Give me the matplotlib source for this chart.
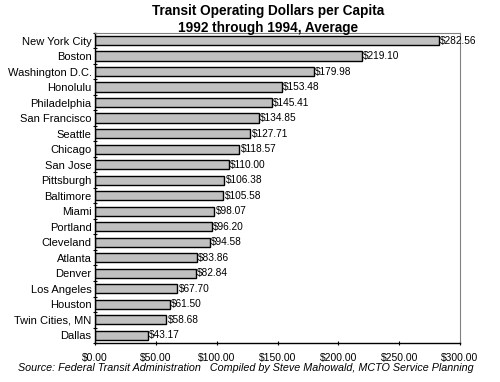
import matplotlib.pyplot as plt
import numpy as np

cities = ["New York City", "Boston", "Washington D.C.", "Honolulu", "Philadelphia",
          "San Francisco", "Seattle", "Chicago", "San Jose", "Pittsburgh", "Baltimore",
          "Miami", "Portland", "Cleveland", "Atlanta", "Denver", "Los Angeles",
          "Houston", "Twin Cities, MN", "Dallas"]
dollars = [282.56, 219.10, 179.98, 153.48, 145.41, 134.85, 127.71, 118.57, 110.00,
           106.38, 105.58, 98.07, 96.20, 94.58, 83.86, 82.84, 67.70, 61.50, 58.68, 43.17]
xticks = [0, 50, 100, 150, 200, 250, 300]

plt.rcParams['font.family'] = ['Liberation Sans', 'DejaVu Sans']

fig = plt.figure(figsize=(5.0, 3.82), dpi=100)
ax = fig.add_axes([0.19, 0.102, 0.73, 0.812])

y = np.arange(len(cities))
ax.barh(y, dollars, height=0.6, color='#c0c0c0', edgecolor='black', linewidth=1)
for yi, v in zip(y, dollars):
    ax.text(v + 1, yi, "$%.2f" % v, va='center', ha='left', fontsize=7.3)

ax.set_ylim(len(cities) - 0.5, -0.5)
ax.set_yticks(y)
ax.set_yticklabels(cities, fontsize=8)
ax.set_yticks(np.arange(-0.5, len(cities), 1), minor=True)
ax.tick_params(axis='y', which='major', length=0, pad=2.5)
ax.tick_params(axis='y', which='minor', length=3, direction='inout', width=0.8)

ax.set_xlim(0, 300)
ax.set_xticks(xticks)
ax.set_xticklabels(["$%.2f" % t for t in xticks], fontsize=7.5)
ax.tick_params(axis='x', length=3, direction='inout', width=0.8, pad=6)

ax.spines['top'].set_color('#808080')
ax.spines['right'].set_color('#808080')
ax.spines['left'].set_linewidth(1)
ax.spines['bottom'].set_linewidth(1)

fig.text(0.536, 0.99, "Transit Operating Dollars per Capita\n1992 through 1994, Average",
         ha='center', va='top', fontsize=9.8, fontweight='bold', linespacing=1.3)
fig.text(0.036, 0.036, "Source: Federal Transit Administration   Compiled by Steve Mahowald, MCTO Service Planning",
         ha='left', va='center', fontsize=7.75, style='italic')

fig.savefig("out.png", dpi=100)
